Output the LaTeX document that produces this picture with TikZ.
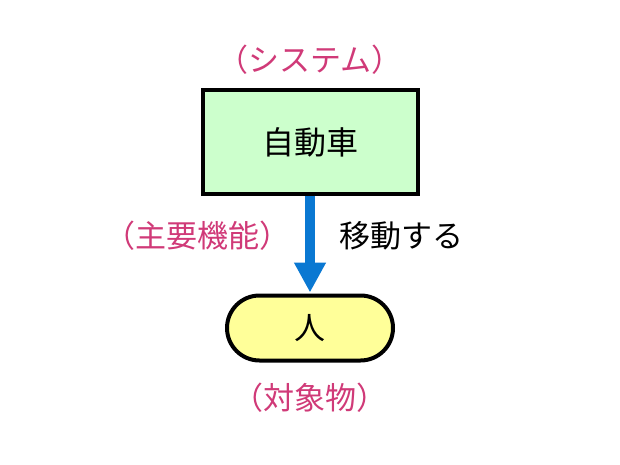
\documentclass[tikz,border=0pt]{standalone}
\usepackage{fontspec}
\setmainfont{Noto Sans CJK JP}
\usetikzlibrary{shapes.misc,arrows.meta}
\definecolor{boxgreen}{HTML}{CCFFCC}
\definecolor{ovalyellow}{HTML}{FFFF99}
\definecolor{labelpink}{HTML}{D03A78}
\definecolor{arrowblue}{HTML}{0A78D2}
\tikzset{
  sysbox/.style={draw=black, line width=4pt, fill=boxgreen, minimum width=215pt, minimum height=103pt, inner sep=0pt, font=\fontsize{32}{38}\selectfont},
  objoval/.style={draw=black, line width=4pt, fill=ovalyellow, rounded rectangle, minimum width=166pt, minimum height=65pt, inner sep=0pt, font=\fontsize{31}{36}\selectfont},
  pinklabel/.style={text=labelpink, font=\fontsize{31}{36}\selectfont, inner sep=0pt},
  blacklabel/.style={text=black, font=\fontsize{31}{36}\selectfont, inner sep=0pt},
  funcarrow/.style={draw=arrowblue, line width=10pt, -{Triangle[width=30pt,length=30pt]}, shorten >=1pt}
}
\begin{document}
\begin{tikzpicture}[x=1pt,y=-1pt]
\useasboundingbox (0,0) rectangle (620,465);
\node[sysbox] (car) at (310,142) {自動車};
\node[objoval] (person) at (310,328) {人};
\node[pinklabel] (sys) at (310,60) {（システム）};
\node[pinklabel] (func) at (197,236) {（主要機能）};
\node[blacklabel] (move) at (401,236) {移動する};
\node[pinklabel] (obj) at (310,398) {（対象物）};
\draw[funcarrow] (car.south) -- (person.north);
\end{tikzpicture}
\end{document}
